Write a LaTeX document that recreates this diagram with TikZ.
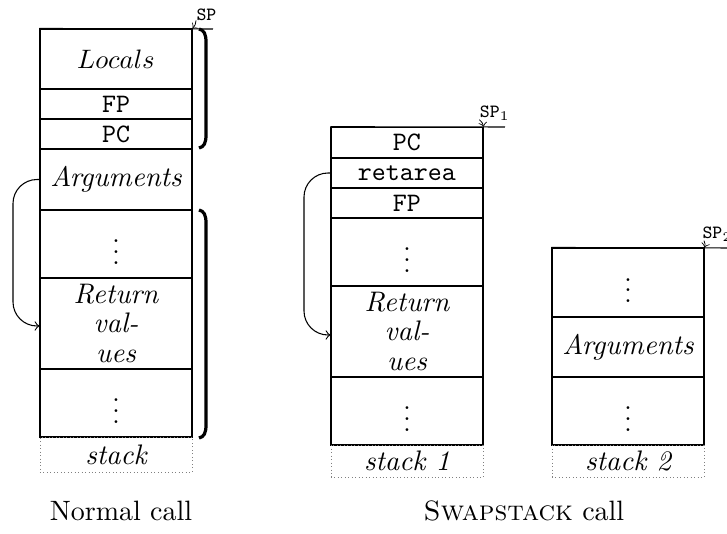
\documentclass[tikz,border=0pt]{standalone}
\usetikzlibrary{arrows}
\begin{document}
\begin{tikzpicture}[x=0.375pt,y=-0.375pt,
  cell/.style={draw, line width=0.4pt, inner sep=0pt, minimum width=152*0.375pt, align=center},
  lbl/.style={draw, densely dotted, gray, text=black, line width=0.3pt, inner sep=0pt, minimum width=152*0.375pt},
  itx/.style={font=\fontsize{10.6}{11.2}\selectfont\itshape},
  captxt/.style={font=\fontsize{10.5}{12.6}\selectfont, anchor=base, inner sep=0pt},
  brk/.style={line width=1.2pt},
  sptxt/.style={font=\scriptsize, inner sep=0pt},
  sparr/.style={->, line width=0.3pt, shorten >=0pt},
  retarr/.style={->, line width=0.4pt, rounded corners=9pt}]
\useasboundingbox (0,0) rectangle (727,534);
% ---------- Normal call ----------
\node[cell, minimum height=60*0.375pt] (locals) at (116,59) {$Locals$};
\node[cell, minimum height=30*0.375pt] (fpA) at (116,104) {\texttt{FP}};
\node[cell, minimum height=30*0.375pt] (pcA) at (116,134) {\texttt{PC}};
\node[cell, itx, minimum height=61*0.375pt] (argA) at (116,179.5) {Arguments};
\node[cell, minimum height=68*0.375pt] (dotA1) at (116,244) {$\vdots$};
\node[cell, itx, minimum height=91*0.375pt] (retA) at (116,323.5) {Return\\val-\\ues};
\node[cell, minimum height=68*0.375pt] (dotA2) at (116,403) {$\vdots$};
\node[lbl, itx, minimum height=35*0.375pt] (stA) at (116,454.5) {stack};
\coordinate (topA) at (213,29);
\draw[line width=0.4pt] (locals.north west) -- (topA);
\node[sptxt] (spA) at (206.5,15) {\texttt{SP}};
\draw[sparr] (spA.south west) ++(0,-1) to[bend left=20] (locals.north east);
\draw[retarr] (argA.west) -| (13,250) |- ([yshift=-2.5*0.375pt]retA.west);
% brackets
\draw[brk] (199,29) .. controls (204,30) and (206,34) .. (206,42) -- (206,135) .. controls (206,143) and (204,147) .. (199,148);
\draw[brk] (199,210) .. controls (204,211) and (206,215) .. (206,223) -- (206,425) .. controls (206,433) and (204,437) .. (199,438);
% ---------- Swapstack call: stack 1 ----------
\node[cell, minimum height=30.5*0.375pt] (pcB) at (407,142.5) {\texttt{PC}};
\node[cell, minimum height=30*0.375pt] (retarea) at (407,173) {\texttt{retarea}};
\node[cell, minimum height=30*0.375pt] (fpB) at (407,203) {\texttt{FP}};
\node[cell, minimum height=68*0.375pt] (dotB1) at (407,252) {$\vdots$};
\node[cell, itx, minimum height=91*0.375pt] (retB) at (407,331.5) {Return\\val-\\ues};
\node[cell, minimum height=68*0.375pt] (dotB2) at (407,411) {$\vdots$};
\node[lbl, itx, minimum height=32*0.375pt] (stB) at (407,461) {stack 1};
\coordinate (topB) at (505,127);
\draw[line width=0.4pt] (pcB.north west) -- (topB);
\node[sptxt] (spB) at (495,113) {\texttt{SP}$_1$};
\draw[sparr] (spB.south west) ++(0,-1) to[bend left=20] (pcB.north east);
\draw[retarr] (retarea.west) -| (304,260) |- ([yshift=-3.5*0.375pt]retB.west);
% ---------- Swapstack call: stack 2 ----------
\node[cell, minimum height=69*0.375pt] (dotC1) at (628,282.5) {$\vdots$};
\node[cell, itx, minimum height=60*0.375pt] (argC) at (628,347) {Arguments};
\node[cell, minimum height=68*0.375pt] (dotC2) at (628,411) {$\vdots$};
\node[lbl, itx, minimum height=32*0.375pt] (stC) at (628,461) {stack 2};
\coordinate (topC) at (730,248);
\draw[line width=0.4pt] (dotC1.north west) -- (topC);
\node[sptxt, anchor=west] (spC) at (702,234) {\texttt{SP}$_2$};
\draw[sparr] (spC.south west) ++(2,-1) to[bend left=20] (dotC1.north east);
% ---------- captions ----------
\node[captxt] (capA) at (121,521) {Normal call};
\node[captxt] (capB) at (524,521) {\textsc{Swapstack} call};
\end{tikzpicture}
\end{document}
